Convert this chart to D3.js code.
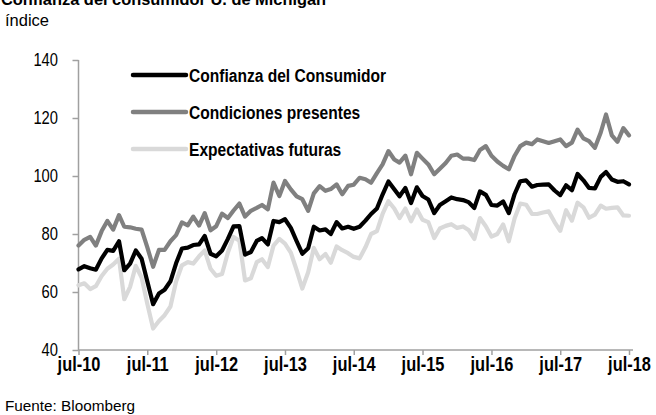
<!DOCTYPE html>
<html><head><meta charset="utf-8">
<script src="https://cdn.jsdelivr.net/npm/d3@7"></script>
<style>
body{margin:0;background:#fff}
svg{display:block}
text{font-family:"Liberation Sans",Arial,sans-serif}
</style>
</head><body>
<svg id="c" width="656" height="415"></svg>
<script>
const titleText = "Confianza del consumidor U. de Michigan";
const unitText = "índice";
const sourceText = "Fuente: Bloomberg";
const seriesNames = ["Confianza del Consumidor", "Condiciones presentes", "Expectativas futuras"];
const seriesColors = ["#000000", "#808080", "#d9d9d9"];
const xTickLabels = ["jul-10","jul-11","jul-12","jul-13","jul-14","jul-15","jul-16","jul-17","jul-18"];
const yTicks = [40, 60, 80, 100, 120, 140];
const firstMonth = "2010-07-01";
const lastMonth = "2018-07-01";

// Jul-2010 .. Jul-2018, monthly
const confianza = [
 67.8,68.9,68.2,67.7,71.6,74.5,
 74.2,77.5,67.5,69.8,74.3,71.5,63.7,55.8,59.5,60.8,63.7,69.9,
 75.0,75.3,76.2,76.4,79.3,73.2,72.3,74.3,78.3,82.6,82.7,72.9,
 73.8,77.6,78.6,76.4,84.5,84.1,85.1,82.1,77.5,73.2,75.1,82.5,
 81.2,81.6,80.0,84.1,81.9,82.5,81.8,82.5,84.6,86.9,88.8,93.6,
 98.1,95.4,93.0,95.9,90.7,96.1,93.1,91.9,87.2,90.0,91.3,92.6,
 92.0,91.7,91.0,89.0,94.7,93.5,90.0,89.8,91.2,87.2,93.8,98.2,
 98.5,96.3,96.9,97.0,97.1,95.0,93.4,96.8,95.1,100.7,98.5,95.9,
 95.7,99.7,101.4,98.8,98.0,98.2,97.1
];
const presentes = [
 76.0,78.0,79.0,76.0,81.0,84.5,
 81.5,86.5,82.5,82.3,81.8,81.5,75.5,68.7,74.5,74.5,77.5,79.6,
 84.0,83.0,86.0,82.9,87.2,81.3,82.7,87.0,85.5,88.1,90.5,86.0,
 88.0,89.0,90.0,88.5,97.7,93.1,98.3,95.4,93.0,92.0,88.0,94.0,
 96.5,94.9,95.5,97.1,93.7,96.6,97.0,99.4,98.9,97.7,101.0,104.0,
 108.6,105.7,104.6,107.0,100.6,108.0,106.0,104.0,100.6,102.5,104.5,107.0,
 107.4,106.0,106.0,105.5,109.0,110.3,107.0,105.0,103.5,102.3,107.0,110.3,
 111.5,111.0,112.6,112.0,111.4,112.0,112.6,110.3,111.5,116.0,113.0,112.0,
 109.7,115.0,121.2,114.0,111.8,116.5,114.0
];
const futuras = [
 62.3,63.0,61.0,62.0,65.5,68.0,
 69.5,71.5,57.5,61.8,69.0,65.0,56.0,47.4,50.0,52.0,55.0,63.6,
 69.2,70.3,69.8,72.3,74.3,68.0,65.6,66.2,73.6,79.0,77.7,64.0,
 64.7,70.3,71.3,68.6,76.0,78.3,76.7,73.6,67.5,61.2,66.8,75.2,
 71.3,73.1,70.1,75.7,74.4,73.4,72.1,71.6,75.4,80.0,81.0,86.9,
 91.3,88.8,85.5,88.8,84.4,88.5,84.9,84.1,78.6,81.9,82.8,83.4,
 82.1,82.6,81.4,78.3,85.5,82.7,79.1,80.0,83.3,77.5,85.4,90.5,
 90.1,86.9,86.9,87.4,87.8,84.1,81.1,88.2,84.6,90.8,89.2,85.6,
 86.7,89.8,88.7,89.0,89.2,86.4,86.3
];

const svg = d3.select("#c");
const plot = {left: 78.5, right: 629, top: 60, bottom: 350};
const narrow = 0.82; // emulate a condensed face (Arial Narrow) by horizontal scaling

const parse = d3.utcParse("%Y-%m-%d");
const d0 = parse(firstMonth), d1 = parse(lastMonth);
const dates = d3.utcMonth.range(d0, d3.utcMonth.offset(d1, 1));

const x = d3.scaleUtc().domain([d0, d1]).range([plot.left, plot.right]);
const y = d3.scaleLinear().domain([40, 140]).range([plot.bottom, plot.top]);

const axisColor = "#a0a0a0";

// title (partially cut at the top edge, as in the reference)
svg.append("text").attr("x", 1).attr("y", 5)
  .attr("font-size", 16.4).attr("font-weight", "bold").attr("fill", "#000")
  .text(titleText);
svg.append("text").attr("x", 5).attr("y", 26)
  .attr("font-size", 16.5).attr("fill", "#000").text(unitText);
svg.append("text").attr("x", 5).attr("y", 411)
  .attr("font-size", 15.3).attr("fill", "#000").text(sourceText);

// Y axis
const yAxis = d3.axisLeft(y).tickValues(yTicks).tickSize(6).tickPadding(13).tickFormat(d3.format("d"));
const gy = svg.append("g").attr("transform", `translate(${plot.left},0)`).call(yAxis);
gy.select(".domain").attr("stroke", axisColor).attr("stroke-width", 1.5)
  .attr("d", `M0,${plot.bottom}V${plot.top}`);
gy.selectAll(".tick line").attr("stroke", axisColor).attr("stroke-width", 1.5);
gy.selectAll(".tick text").attr("font-size", 18).attr("fill", "#000")
  .attr("x", -20.5 / narrow).attr("transform", `scale(${narrow},1)`)
  .style("font-family", '"Liberation Sans",Arial,sans-serif');

// X axis
const tickDates = xTickLabels.map((l, i) => d3.utcYear.offset(d0, i));
const xAxis = d3.axisBottom(x).tickValues(tickDates).tickSize(5).tickPadding(2)
  .tickFormat((d, i) => xTickLabels[i]);
const gx = svg.append("g").attr("transform", `translate(0,${plot.bottom})`).call(xAxis);
gx.select(".domain").attr("stroke", axisColor).attr("stroke-width", 1.5)
  .attr("d", `M${plot.left},0H${plot.right + 4}`);
gx.selectAll(".tick line").attr("stroke", axisColor).attr("stroke-width", 1.5);
gx.selectAll(".tick text").attr("font-size", 20).attr("font-weight", "bold").attr("fill", "#000")
  .attr("transform", `scale(${narrow},1)`)
  .style("font-family", '"Liberation Sans",Arial,sans-serif');

// lines: light first, then grey, then black on top
const line = d3.line().x((d, i) => x(dates[i])).y(d => y(d));
const seriesData = [confianza, presentes, futuras];
[2, 1, 0].forEach(k => {
  svg.append("path").datum(seriesData[k])
    .attr("d", line).attr("fill", "none")
    .attr("stroke", seriesColors[k]).attr("stroke-width", 4.2)
    .attr("stroke-linejoin", "round").attr("stroke-linecap", "round");
});

// legend
const legY = [75, 112, 149];
seriesNames.forEach((n, k) => {
  svg.append("line").attr("x1", 133).attr("x2", 186).attr("y1", legY[k]).attr("y2", legY[k])
    .attr("stroke", seriesColors[k]).attr("stroke-width", 4.5).attr("stroke-linecap", "round");
  svg.append("text").attr("transform", `translate(189,${legY[k]}) scale(${narrow},1)`)
    .attr("dy", "0.36em")
    .attr("font-size", 19).attr("font-weight", "bold").attr("fill", "#000").text(n);
});
</script>
</body></html>
